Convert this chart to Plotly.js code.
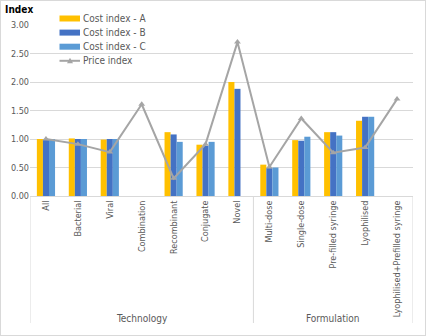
<!DOCTYPE html>
<html>
<head>
<meta charset="utf-8">
<script src="https://cdn.plot.ly/plotly-3.0.1.min.js"></script>
<style>
  html, body { margin: 0; padding: 0; background: #fff; }
  #wrap { position: relative; width: 426px; height: 336px; }
  #chart { position: absolute; left: 0; top: 0; width: 426px; height: 336px; }
  #frame { position: absolute; left: 0; top: 0; width: 426px; height: 336px;
           box-sizing: border-box; border: 1px solid #d9d9d9; pointer-events: none; }
</style>
</head>
<body>
<div id="wrap"><div id="chart"></div><div id="frame"></div></div>
<script>
// Category labels and their groups
const categories = ['All', 'Bacterial', 'Viral', 'Combination', 'Recombinant', 'Conjugate', 'Novel',
  'Multi-dose', 'Single-dose', 'Pre-filled syringe', 'Lyophilised', 'Lyophilised+Prefilled syringe'];
const groups = [
  { name: 'Technology', first: 0, last: 6 },
  { name: 'Formulation', first: 7, last: 11 }
];

// Index values per category
const costA = [1.00, 1.01, 0.99, null, 1.12, 0.90, 2.00, 0.55, 0.98, 1.12, 1.32, null];
const costB = [0.99, 1.00, 1.00, null, 1.08, 0.88, 1.88, 0.49, 0.97, 1.12, 1.39, null];
const costC = [1.00, 1.00, 1.00, null, 0.95, 0.95, null, 0.50, 1.04, 1.06, 1.39, null];
const priceIdx = [1.00, 0.91, 0.77, 1.61, 0.31, 0.91, 2.70, 0.51, 1.36, 0.76, 0.85, 1.70];

const seriesNames = ['Cost index - A', 'Cost index - B', 'Cost index - C', 'Price index'];
const seriesColors = ['#FFC000', '#4472C4', '#5B9BD5', '#A5A5A5'];

const FONT = '"Liberation Sans Narrow", "DejaVu Sans Condensed", Arial, sans-serif';
const TXT = '#595959';

const traces = [
  { type: 'bar', name: seriesNames[0], x: categories, y: costA, marker: { color: seriesColors[0] } },
  { type: 'bar', name: seriesNames[1], x: categories, y: costB, marker: { color: seriesColors[1] } },
  { type: 'bar', name: seriesNames[2], x: categories, y: costC, marker: { color: seriesColors[2] } },
  { type: 'scatter', mode: 'lines+markers', name: seriesNames[3], x: categories, y: priceIdx,
    line: { color: seriesColors[3], width: 2 },
    marker: { symbol: 'triangle-up', size: 6, color: seriesColors[3] } }
];

// Plot area geometry (pixels) used to place the legend and the group dividers
const W = 426, H = 336, ML = 30, MR = 13, MT = 25, MB = 140;
const PW = W - ML - MR, PH = H - MT - MB;
const px = x => (x - ML) / PW;
const py = y => (H - MB - y) / PH;

const shapes = [];
const annotations = [];

// Group dividers below the category axis and group labels
const edges = [-0.5];
groups.forEach(g => edges.push(g.last + 0.5));
edges.forEach(x => shapes.push({
  type: 'line', xref: 'x', yref: 'paper', x0: x, x1: x, y0: 0, y1: py(323),
  line: { color: '#d9d9d9', width: 1 }
}));
groups.forEach(g => annotations.push({
  xref: 'x', yref: 'paper', x: (g.first + g.last) / 2, y: py(318),
  text: g.name, showarrow: false, yanchor: 'middle',
  font: { family: FONT, size: 10, color: TXT }
}));

// Legend: swatches / line sample with text, stacked in the upper left of the plot
seriesNames.forEach((name, i) => {
  const cy = 18.5 + i * 14.1;
  if (i < 3) {
    shapes.push({ type: 'rect', xref: 'paper', yref: 'paper', x0: px(59.5), x1: px(80), y0: py(cy - 3), y1: py(cy + 3),
      fillcolor: seriesColors[i], line: { width: 0 } });
  } else {
    shapes.push({ type: 'line', xref: 'paper', yref: 'paper', x0: px(59.5), x1: px(80), y0: py(cy), y1: py(cy),
      line: { color: seriesColors[i], width: 2 } });
    shapes.push({ type: 'path', xref: 'paper', yref: 'paper',
      path: `M ${px(67)} ${py(cy + 2.5)} L ${px(73)} ${py(cy + 2.5)} L ${px(70)} ${py(cy - 3)} Z`,
      fillcolor: seriesColors[i], line: { width: 0 } });
  }
  annotations.push({ xref: 'paper', yref: 'paper', x: px(81), y: py(cy), xanchor: 'left', yanchor: 'middle',
    text: name, showarrow: false, font: { family: FONT, size: 10, color: TXT } });
});

const layout = {
  width: W, height: H,
  margin: { l: ML, r: MR, t: MT, b: MB, pad: 0 },
  paper_bgcolor: '#fff', plot_bgcolor: '#fff',
  font: { family: FONT, size: 9, color: TXT },
  title: { text: '<b>Index</b>', x: 0.012, xanchor: 'left', y: 0.972, yanchor: 'middle',
    font: { family: FONT, size: 10, color: '#000' } },
  showlegend: false,
  barmode: 'group', bargap: 0.43, bargroupgap: 0,
  xaxis: {
    type: 'category', tickangle: -90, showline: true, linecolor: '#d9d9d9', linewidth: 1,
    ticks: '', showgrid: false, tickfont: { family: FONT, size: 9, color: TXT },
    range: [-0.5, 11.5]
  },
  yaxis: {
    range: [0, 3], dtick: 0.5, tickformat: '.2f', showgrid: true, gridcolor: '#d9d9d9',
    zeroline: false, showline: false, ticks: '', tickfont: { family: FONT, size: 9, color: TXT }
  },
  shapes: shapes, annotations: annotations
};

Plotly.newPlot('chart', traces, layout, { displayModeBar: false, staticPlot: true });
</script>
</body>
</html>
